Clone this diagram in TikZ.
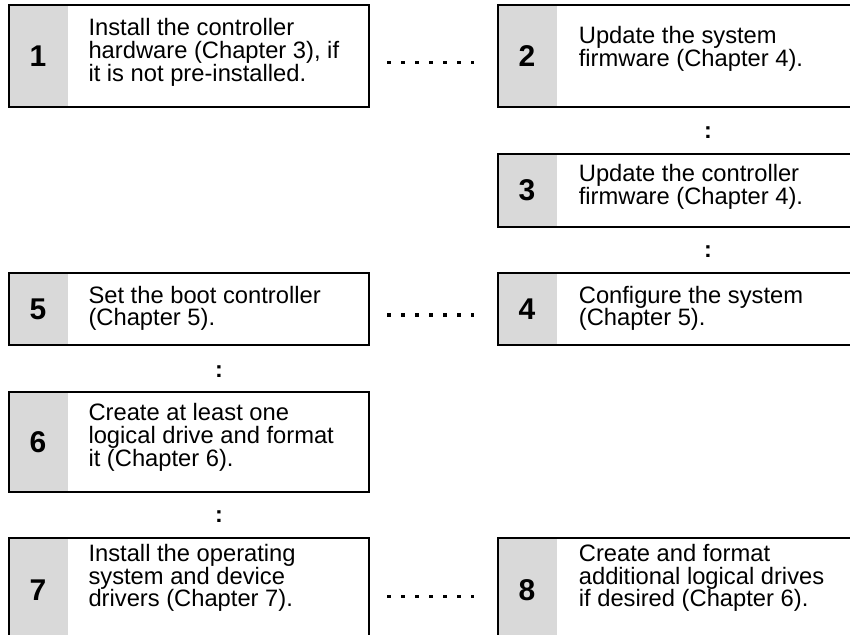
\documentclass[tikz,border=0pt]{standalone}
\usepackage{fontspec}
\setmainfont{Liberation Sans}
\usetikzlibrary{positioning,calc}
\definecolor{numgray}{RGB}{217,217,217}
\tikzset{
        % Gray cell holding the step number
        numcell/.style={rectangle, fill=numgray, inner sep=0pt, minimum width=45pt,
            font=\fontsize{22.5}{24}\selectfont\bfseries},
        % Outer frame of a step
        stepframe/.style={rectangle, draw=black, line width=2pt, inner sep=0pt, minimum width=270pt},
        % Step description
        steptext/.style={align=left, inner sep=0pt, font=\fontsize{17.8}{17}\selectfont},
        % Colon between two stacked steps
        colonmark/.style={inner sep=0pt, font=\fontsize{17.5}{17}\selectfont\bfseries},
        % Dots between two steps side by side
        dotrow/.style={line width=2.6pt, dash pattern=on 2.6pt off 7.9pt, shorten <=12.75pt, shorten >=17.4pt}
}
\begin{document}
\begin{tikzpicture}[x=0.75pt, y=-0.75pt]
    \path[use as bounding box, clip] (0,0) rectangle (850,635);
    % step 1
    \node[numcell, minimum height=76.5pt] (n1) at (38,56) {1};
    \node[stepframe, minimum height=76.5pt, right=0pt of n1.west] (b1) {};
    \node[steptext, right=15pt of n1, yshift=2.8pt] (t1) {Install the controller\\hardware (Chapter 3), if\\it is not pre-installed.};
    % step 2
    \node[numcell, minimum height=76.5pt] (n2) at (527,56) {2};
    \node[stepframe, minimum height=76.5pt, right=0pt of n2.west] (b2) {};
    \node[steptext, right=16pt of n2, yshift=5.5pt] (t2) {Update the system\\firmware (Chapter 4).};
    % step 3
    \node[numcell, minimum height=54.75pt] (n3) at (527,190.5) {3};
    \node[stepframe, minimum height=54.75pt, right=0pt of n3.west] (b3) {};
    \node[steptext, right=16pt of n3, yshift=2.5pt] (t3) {Update the controller\\firmware (Chapter 4).};
    % step 4
    \node[numcell, minimum height=54pt] (n4) at (527,309) {4};
    \node[stepframe, minimum height=54pt, right=0pt of n4.west] (b4) {};
    \node[steptext, right=16pt of n4, yshift=0.5pt] (t4) {Configure the system\\(Chapter 5).};
    % step 5
    \node[numcell, minimum height=54pt] (n5) at (38,309) {5};
    \node[stepframe, minimum height=54pt, right=0pt of n5.west] (b5) {};
    \node[steptext, right=15pt of n5, yshift=0.5pt] (t5) {Set the boot controller\\(Chapter 5).};
    % step 6
    \node[numcell, minimum height=75pt] (n6) at (38,442) {6};
    \node[stepframe, minimum height=75pt, right=0pt of n6.west] (b6) {};
    \node[steptext, right=15pt of n6, yshift=3.5pt] (t6) {Create at least one\\logical drive and format\\it (Chapter 6).};
    % step 7
    \node[numcell, minimum height=78pt] (n7) at (38,590) {7};
    \node[stepframe, minimum height=78pt, right=0pt of n7.west] (b7) {};
    \node[steptext, right=15pt of n7, yshift=9pt] (t7) {Install the operating\\system and device\\drivers (Chapter 7).};
    % step 8
    \node[numcell, minimum height=78pt] (n8) at (527,590) {8};
    \node[stepframe, minimum height=78pt, right=0pt of n8.west] (b8) {};
    \node[steptext, right=16pt of n8, yshift=9pt] (t8) {Create and format\\additional logical drives\\if desired (Chapter 6).};

    % dots between side by side steps
    \draw[dotrow] ([yshift=-5pt]b1.east) -- ([yshift=-5pt]b2.west);
    \draw[dotrow] ([yshift=-4.5pt]b5.east) -- ([yshift=-4.5pt]b4.west);
    \draw[dotrow] ([yshift=-5pt]b7.east) -- ([yshift=-5pt]b8.west);

    % colons between stacked steps
    \node[colonmark, xshift=22.5pt, yshift=-1.5pt] (c23) at ($(b2.south)!0.5!(b3.north)$) {:};
    \node[colonmark, xshift=22.5pt, yshift=-1.5pt] (c34) at ($(b3.south)!0.5!(b4.north)$) {:};
    \node[colonmark, xshift=22.5pt, yshift=-2.5pt] (c56) at ($(b5.south)!0.5!(b6.north)$) {:};
    \node[colonmark, xshift=22.5pt, yshift=-1.5pt] (c67) at ($(b6.south)!0.5!(b7.north)$) {:};
\end{tikzpicture}
\end{document}
